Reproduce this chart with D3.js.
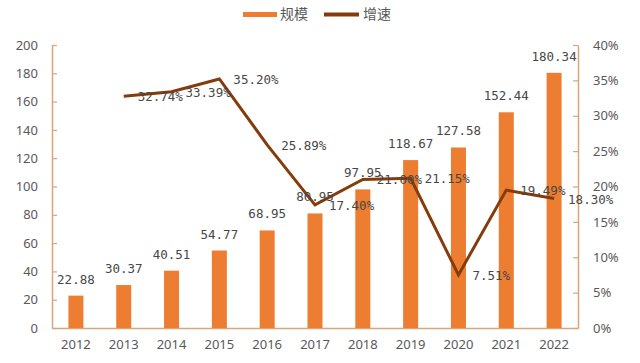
<!DOCTYPE html>
<html><head><meta charset="utf-8">
<script src="https://cdn.jsdelivr.net/npm/d3@7"></script>
<style>
html,body{margin:0;padding:0;background:#fff;}
svg{display:block;}
</style></head>
<body>
<svg id="chart" width="640" height="363"></svg>
<script>
const years = ["2012","2013","2014","2015","2016","2017","2018","2019","2020","2021","2022"];
const scale = [22.88,30.37,40.51,54.77,68.95,80.95,97.95,118.67,127.58,152.44,180.34];
const growthYears = ["2013","2014","2015","2016","2017","2018","2019","2020","2021","2022"];
const growth = [32.74,33.39,35.20,25.89,17.40,21.00,21.15,7.51,19.49,18.30];
const leftTicks = [0,20,40,60,80,100,120,140,160,180,200];
const rightTicks = [0,5,10,15,20,25,30,35,40];
const seriesNames = ["规模","增速"];

const barColor = "#ED7D31", lineColor = "#843C0C", axisColor = "#D9A57A", textColor = "#595959", labelColor = "#474747";
const svg = d3.select("#chart");
const m = {l:52, r:578, t:45, b:328};

const x = d3.scaleBand().domain(years).range([m.l, m.r]).paddingInner(0).paddingOuter(0);
const yL = d3.scaleLinear().domain([0,200]).range([m.b, m.t]);
const yR = d3.scaleLinear().domain([0,40]).range([m.b, m.t]);
const cx = d => x(d) + x.bandwidth()/2;
const barW = 15;

// axes
const gL = svg.append("g").attr("transform",`translate(${m.l},0)`)
  .call(d3.axisLeft(yL).tickValues(leftTicks).tickSize(-5).tickPadding(14).tickSizeOuter(0));
const gR = svg.append("g").attr("transform",`translate(${m.r},0)`)
  .call(d3.axisRight(yR).tickValues(rightTicks).tickFormat(d=>d+"%").tickSize(-5).tickPadding(15).tickSizeOuter(0));
const gX = svg.append("g").attr("transform",`translate(0,${m.b})`)
  .call(d3.axisBottom(x).tickSize(0).tickPadding(10).tickSizeOuter(0));
[gL,gR,gX].forEach(g=>{
  g.selectAll("path.domain").attr("stroke",axisColor).attr("stroke-width",1.5);
  g.selectAll(".tick line").attr("stroke",axisColor).attr("stroke-width",1.2);
  g.selectAll("text").attr("fill",textColor).style("font-family","'Noto Sans','DejaVu Sans',sans-serif").style("font-size","13px");
});
gX.selectAll(".tick text").attr("dy","0.85em");
gR.selectAll(".tick text").attr("x",15);

// bars
svg.append("g").selectAll("rect").data(years).join("rect")
  .attr("x",(d)=>cx(d)-barW/2).attr("width",barW)
  .attr("y",(d,i)=>yL(scale[i])).attr("height",(d,i)=>yL(0)-yL(scale[i]))
  .attr("fill",barColor);

// line
const lineData = growthYears.map((d,i)=>[cx(d), yR(growth[i])]);
svg.append("path").datum(lineData)
  .attr("d", d3.line())
  .attr("fill","none").attr("stroke",lineColor).attr("stroke-width",3).attr("stroke-linejoin","miter");

const lblFont = "'DejaVu Sans Mono',monospace";
// bar labels
svg.append("g").selectAll("text").data(years).join("text")
  .attr("x",d=>cx(d)).attr("y",(d,i)=>yL(scale[i])-12)
  .attr("text-anchor","middle")
  .style("font-family",lblFont).style("font-size","12.5px").attr("fill",labelColor)
  .text((d,i)=>scale[i].toFixed(2));

// line labels
svg.append("g").selectAll("text").data(growthYears).join("text")
  .attr("x",d=>cx(d)+14).attr("y",(d,i)=>yR(growth[i])+5)
  .style("font-family",lblFont).style("font-size","12.5px").attr("fill",labelColor)
  .text((d,i)=>growth[i].toFixed(2)+"%");

// legend
const lg = svg.append("g");
lg.append("rect").attr("x",243).attr("y",12).attr("width",34).attr("height",5).attr("fill",barColor);
lg.append("text").attr("x",280).attr("y",19).text(seriesNames[0]);
lg.append("line").attr("x1",324).attr("x2",359).attr("y1",14.5).attr("y2",14.5).attr("stroke",lineColor).attr("stroke-width",4);
lg.append("text").attr("x",363).attr("y",19).text(seriesNames[1]);
lg.selectAll("text").attr("fill",textColor).style("font-family","'Noto Sans CJK SC',sans-serif").style("font-size","14px");
</script>
</body></html>
